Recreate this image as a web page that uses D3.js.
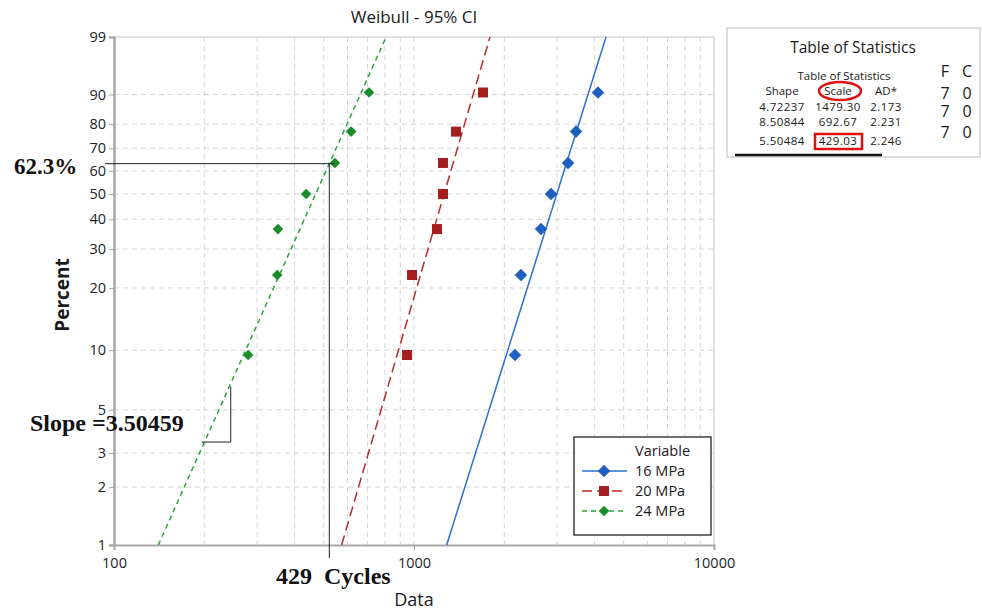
<!DOCTYPE html>
<html>
<head>
<meta charset="utf-8">
<script src="https://cdn.jsdelivr.net/npm/d3@7"></script>
<style>
  body { margin: 0; background: #fff; }
  text { font-family: "Open Sans", sans-serif; fill: #1a1a1a; }
  .serif { font-family: "Liberation Serif", "DejaVu Serif", serif; font-weight: bold; fill: #111; }
  .axis path, .axis line { stroke: #a8a8a8; }
  .axis text { font-size: 14.5px; fill: #222; }
</style>
</head>
<body>
<div class="chart"></div>
<script>
var svgWidth = 982;
var svgHeight = 614;

var margin = { top: 37, right: 268, bottom: 69, left: 114 };
var width = svgWidth - margin.left - margin.right;
var height = svgHeight - margin.top - margin.bottom;

// percent axis ticks and cycle axis ticks
var pctTicks = [1, 2, 3, 5, 10, 20, 30, 40, 50, 60, 70, 80, 90, 99];
var xMajor = [100, 1000, 10000];
var xMinor = [200, 300, 400, 500, 600, 700, 800, 900, 1000,
  2000, 3000, 4000, 5000, 6000, 7000, 8000, 9000];

// data (median ranks)
var seriesNames = ["16 MPa", "20 MPa", "24 MPa"];
var pct = [9.46, 22.97, 36.49, 50.0, 63.51, 77.03, 90.54];
var cycles16 = [2171, 2273, 2651, 2862, 3262, 3467, 4106];
var cycles20 = [948, 985, 1193, 1249, 1249, 1380, 1698];
var cycles24 = [280, 350, 352, 437, 545, 617, 708];

// fitted weibull lines (shape, scale)
var fitShape = [5.01, 5.38, 3.50459];
var fitScale = [3219, 1349, 522];
var fitPct = [1, 99];

// annotations
var annotPct = 63.2;
var slopeCycles = [196, 245];
var slopePct = [3.42, 6.56];

// table of statistics
var tblShape = ["4.72237", "8.50844", "5.50484"];
var tblScale = ["1479.30", "692.67", "429.03"];
var tblAD = ["2.173", "2.231", "2.246"];
var tblF = ["7", "7", "7"];
var tblC = ["0", "0", "0"];

var colors = ["#1f5fbf", "#a51d1d", "#1a8c2a"];
var lineColors = ["#2a6fd0", "#b52a2a", "#2aa33a"];
var dashes = [null, "10,5", "5,4"];
var allCycles = [cycles16, cycles20, cycles24];

var svg = d3.select(".chart")
  .append("svg")
  .attr("width", svgWidth)
  .attr("height", svgHeight);

var chartGroup = svg.append("g")
  .attr("transform", `translate(${margin.left}, ${margin.top})`);

function weib(p) {
  return Math.log(-Math.log(1 - p / 100));
}

var xScale = d3.scaleLog().domain([100, 10000]).range([0, width]);
var yScale = d3.scaleLinear().domain([weib(1), weib(99)]).range([height, 0]);

// grid
chartGroup.selectAll(".vgrid")
  .data(xMinor)
  .enter()
  .append("line")
  .attr("x1", d => xScale(d))
  .attr("x2", d => xScale(d))
  .attr("y1", 0)
  .attr("y2", height)
  .attr("stroke", "#d4d4d4")
  .attr("stroke-dasharray", "5,4");

chartGroup.selectAll(".hgrid")
  .data(pctTicks.slice(1, -1))
  .enter()
  .append("line")
  .attr("x1", 0)
  .attr("x2", width)
  .attr("y1", d => yScale(weib(d)))
  .attr("y2", d => yScale(weib(d)))
  .attr("stroke", "#d4d4d4")
  .attr("stroke-dasharray", "5,4");

// frame top/right
chartGroup.append("path")
  .attr("d", `M0,0H${width}V${height}`)
  .attr("fill", "none")
  .attr("stroke", "#c4c4c4");

// axes
var leftAxis = d3.axisLeft(yScale)
  .tickValues(pctTicks.map(weib))
  .tickFormat((d, i) => pctTicks[i])
  .tickSize(5)
  .tickPadding(3);

var bottomAxis = d3.axisBottom(xScale)
  .tickValues(xMajor)
  .tickFormat(d3.format("d"))
  .tickSize(5)
  .tickPadding(8);

var yAxis = chartGroup.append("g").classed("axis", true).call(leftAxis);
yAxis.select(".domain").attr("stroke-width", 2.5);

var xAxis = chartGroup.append("g")
  .classed("axis", true)
  .attr("transform", `translate(0, ${height})`)
  .call(bottomAxis);
xAxis.select(".domain").attr("stroke-width", 2);

// fitted lines
seriesNames.forEach(function(name, i) {
  var line = d3.line()
    .x(p => xScale(fitScale[i] * Math.pow(-Math.log(1 - p / 100), 1 / fitShape[i])))
    .y(p => yScale(weib(p)));
  chartGroup.append("path")
    .datum(fitPct)
    .attr("d", line)
    .attr("fill", "none")
    .attr("stroke", lineColors[i])
    .attr("stroke-width", 1.5)
    .attr("stroke-dasharray", dashes[i]);
});

// markers
var symbols = [d3.symbolDiamond2, d3.symbolSquare, d3.symbolDiamond2];
var symSizes = [100, 100, 72];
seriesNames.forEach(function(name, i) {
  chartGroup.selectAll(".pt" + i)
    .data(allCycles[i])
    .enter()
    .append("path")
    .attr("d", d3.symbol().type(symbols[i]).size(symSizes[i]))
    .attr("transform", (d, j) => `translate(${xScale(d)}, ${yScale(weib(pct[j]))})`)
    .attr("fill", colors[i]);
});

// annotations: 63.2% crossing of 24 MPa line
var annotX = xScale(fitScale[2]);
var annotY = yScale(weib(annotPct));
chartGroup.append("line")
  .attr("x1", -9).attr("x2", annotX + 5)
  .attr("y1", annotY).attr("y2", annotY)
  .attr("stroke", "#222");
chartGroup.append("line")
  .attr("x1", annotX).attr("x2", annotX)
  .attr("y1", annotY).attr("y2", height + 13)
  .attr("stroke", "#222");

chartGroup.append("path")
  .attr("d", `M${xScale(slopeCycles[0])},${yScale(weib(slopePct[0]))}` +
    `H${xScale(slopeCycles[1])}V${yScale(weib(slopePct[1]))}`)
  .attr("fill", "none")
  .attr("stroke", "#222");

svg.append("text").attr("class", "serif")
  .attr("x", 14).attr("y", 174)
  .style("font-size", "23px")
  .text("62.3%");

svg.append("text").attr("class", "serif")
  .attr("x", 30).attr("y", 431)
  .style("font-size", "24px")
  .text("Slope =3.50459");

svg.append("text").attr("class", "serif")
  .attr("x", 276).attr("y", 584)
  .style("font-size", "24px")
  .attr("xml:space", "preserve")
  .text("429  Cycles");

// titles
svg.append("text")
  .attr("x", margin.left + width / 2).attr("y", 23)
  .attr("text-anchor", "middle")
  .style("font-size", "17px")
  .text("Weibull - 95% CI");

svg.append("text")
  .attr("transform", "rotate(-90)")
  .attr("x", -295).attr("y", 69)
  .attr("text-anchor", "middle")
  .style("font-size", "19px")
  .style("font-weight", 700)
  .text("Percent");

svg.append("text")
  .attr("x", margin.left + width / 2).attr("y", 606)
  .attr("text-anchor", "middle")
  .style("font-size", "18px")
  .text("Data");

// legend
var legend = svg.append("g").attr("transform", "translate(574, 437)");
legend.append("rect")
  .attr("width", 137).attr("height", 98)
  .attr("fill", "#fff")
  .attr("stroke", "#222")
  .attr("stroke-width", 1.3);
legend.append("text")
  .attr("x", 61).attr("y", 19)
  .style("font-size", "14.5px")
  .text("Variable");
seriesNames.forEach(function(name, i) {
  var ly = 34 + i * 20;
  legend.append("line")
    .attr("x1", 8).attr("x2", 53)
    .attr("y1", ly).attr("y2", ly)
    .attr("stroke", lineColors[i])
    .attr("stroke-width", 1.5)
    .attr("stroke-dasharray", dashes[i]);
  legend.append("path")
    .attr("d", d3.symbol().type(symbols[i]).size(symSizes[i]))
    .attr("transform", `translate(30, ${ly})`)
    .attr("fill", colors[i]);
  legend.append("text")
    .attr("x", 61).attr("y", ly + 5)
    .style("font-size", "14.5px")
    .text(name);
});

// table of statistics
var tbl = svg.append("g");
tbl.append("rect")
  .attr("x", 727).attr("y", 28)
  .attr("width", 253).attr("height", 129)
  .attr("fill", "#fff")
  .attr("stroke", "#bbb");
tbl.append("text")
  .attr("x", 853).attr("y", 53)
  .attr("text-anchor", "middle")
  .style("font-size", "15.5px")
  .text("Table of Statistics");
tbl.append("text")
  .attr("x", 844).attr("y", 80)
  .attr("text-anchor", "middle")
  .style("font-size", "11.5px")
  .text("Table of Statistics");

var colX = [782, 838, 886];
["Shape", "Scale", "AD*"].forEach(function(h, j) {
  tbl.append("text")
    .attr("x", colX[j]).attr("y", 95)
    .attr("text-anchor", "middle")
    .style("font-size", "11.5px")
    .text(h);
});
[tblShape, tblScale, tblAD].forEach(function(col, j) {
  col.forEach(function(v, i) {
    tbl.append("text")
      .attr("x", colX[j]).attr("y", [111, 126, 145][i])
      .attr("text-anchor", "middle")
      .style("font-size", "11.5px")
      .style("letter-spacing", "0.4px")
      .text(v);
  });
});
["F", "C"].forEach(function(h, j) {
  tbl.append("text")
    .attr("x", [945, 967][j]).attr("y", 77)
    .attr("text-anchor", "middle")
    .style("font-size", "16px")
    .text(h);
});
[tblF, tblC].forEach(function(col, j) {
  col.forEach(function(v, i) {
    tbl.append("text")
      .attr("x", [945, 967][j]).attr("y", [99, 117, 138][i])
      .attr("text-anchor", "middle")
      .style("font-size", "16px")
      .text(v);
  });
});
tbl.append("ellipse")
  .attr("cx", 840).attr("cy", 91)
  .attr("rx", 21).attr("ry", 9)
  .attr("fill", "none")
  .attr("stroke", "#e01010")
  .attr("stroke-width", 2.5);
tbl.append("rect")
  .attr("x", 815).attr("y", 134)
  .attr("width", 47).attr("height", 15)
  .attr("fill", "none")
  .attr("stroke", "#e01010")
  .attr("stroke-width", 2.5);
tbl.append("line")
  .attr("x1", 735).attr("x2", 882)
  .attr("y1", 155).attr("y2", 155)
  .attr("stroke", "#111")
  .attr("stroke-width", 2.5);
</script>
</body>
</html>
